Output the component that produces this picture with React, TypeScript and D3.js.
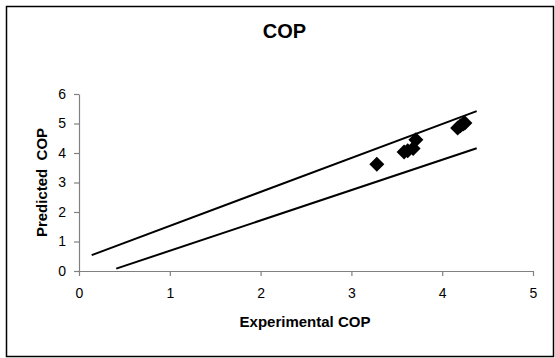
import React, { useRef, useEffect } from "react";
import * as d3 from "d3";

// measured points (experimental vs predicted)
const experimental = [3.28, 3.58, 3.62, 3.68, 3.71, 4.17, 4.2, 4.23, 4.25];
const predicted = [3.62, 4.03, 4.08, 4.15, 4.45, 4.85, 4.92, 4.98, 5.02];

// error band lines (start / end points)
const upperLineX = [0.14, 4.38];
const upperLineY = [0.54, 5.42];
const lowerLineX = [0.41, 4.38];
const lowerLineY = [0.08, 4.16];

const xTicks = [0, 1, 2, 3, 4, 5];
const yTicks = [0, 1, 2, 3, 4, 5, 6];

const App = () => {
  const ref = useRef<SVGSVGElement | null>(null);

  useEffect(() => {
    const svg = d3.select(ref.current);
    svg.selectAll("*").remove();

    const W = 555, H = 358;
    const margin = { top: 94, right: 22, bottom: 87, left: 79 };
    const width = W - margin.left - margin.right;
    const height = H - margin.top - margin.bottom;
    const font = "'Liberation Sans', Arial, sans-serif";

    svg.append("rect")
      .attr("x", 0).attr("y", 0).attr("width", W).attr("height", H)
      .attr("fill", "#fff");

    // chart frame
    svg.append("rect")
      .attr("x", 6.5).attr("y", 6.5)
      .attr("width", W - 8).attr("height", H - 8)
      .attr("fill", "none").attr("stroke", "#000").attr("stroke-width", 1.5);

    svg.append("text")
      .attr("x", 284.5).attr("y", 38)
      .attr("text-anchor", "middle")
      .style("font-family", font).style("font-weight", "bold").style("font-size", "20px")
      .text("COP");

    const g = svg.append("g").attr("transform", `translate(${margin.left},${margin.top})`);

    const x = d3.scaleLinear().domain([0, 5]).range([0, width]);
    const y = d3.scaleLinear().domain([0, 6]).range([height, 0]);

    const xAxis = g.append("g")
      .attr("transform", `translate(0,${height})`)
      .call(d3.axisBottom(x).tickValues(xTicks).tickFormat(d3.format("d")).tickSizeInner(5).tickSizeOuter(0).tickPadding(12));
    const yAxis = g.append("g")
      .call(d3.axisLeft(y).tickValues(yTicks).tickFormat(d3.format("d")).tickSizeInner(5).tickSizeOuter(0).tickPadding(8));

    [xAxis, yAxis].forEach((a) => {
      a.select(".domain").attr("stroke", "#808080").attr("stroke-width", 1.2);
      a.selectAll(".tick line").attr("stroke", "#808080").attr("stroke-width", 1.2);
      a.selectAll("text").style("font-family", font).style("font-size", "14px").attr("fill", "#000");
    });

    const line = d3.line<[number, number]>().x((d) => x(d[0])).y((d) => y(d[1]));
    const bands = [
      upperLineX.map((v, i) => [v, upperLineY[i]] as [number, number]),
      lowerLineX.map((v, i) => [v, lowerLineY[i]] as [number, number]),
    ];
    g.selectAll(".band")
      .data(bands)
      .enter()
      .append("path")
      .attr("d", (d) => line(d))
      .attr("fill", "none")
      .attr("stroke", "#000")
      .attr("stroke-width", 2);

    const pts = experimental.map((v, i) => [v, predicted[i]] as [number, number]);
    const r = 7.5;
    g.selectAll(".pt")
      .data(pts)
      .enter()
      .append("path")
      .attr("transform", (d) => `translate(${x(d[0])},${y(d[1])})`)
      .attr("d", `M0,${-r}L${r},0L0,${r}L${-r},0Z`)
      .attr("fill", "#000");

    svg.append("text")
      .attr("x", 305).attr("y", 327)
      .attr("text-anchor", "middle")
      .style("font-family", font).style("font-weight", "bold").style("font-size", "15px")
      .text("Experimental COP");

    svg.append("text")
      .attr("transform", `translate(47,${margin.top + height / 2}) rotate(-90)`)
      .attr("text-anchor", "middle")
      .attr("xml:space", "preserve")
      .style("white-space", "pre")
      .style("font-family", font).style("font-weight", "bold").style("font-size", "15px")
      .text("Predicted  COP");
  }, []);

  return (
    <svg ref={ref} width={555} height={358} style={{ position: "absolute", left: 0, top: 0, display: "block" }} />
  );
};

export default App;
